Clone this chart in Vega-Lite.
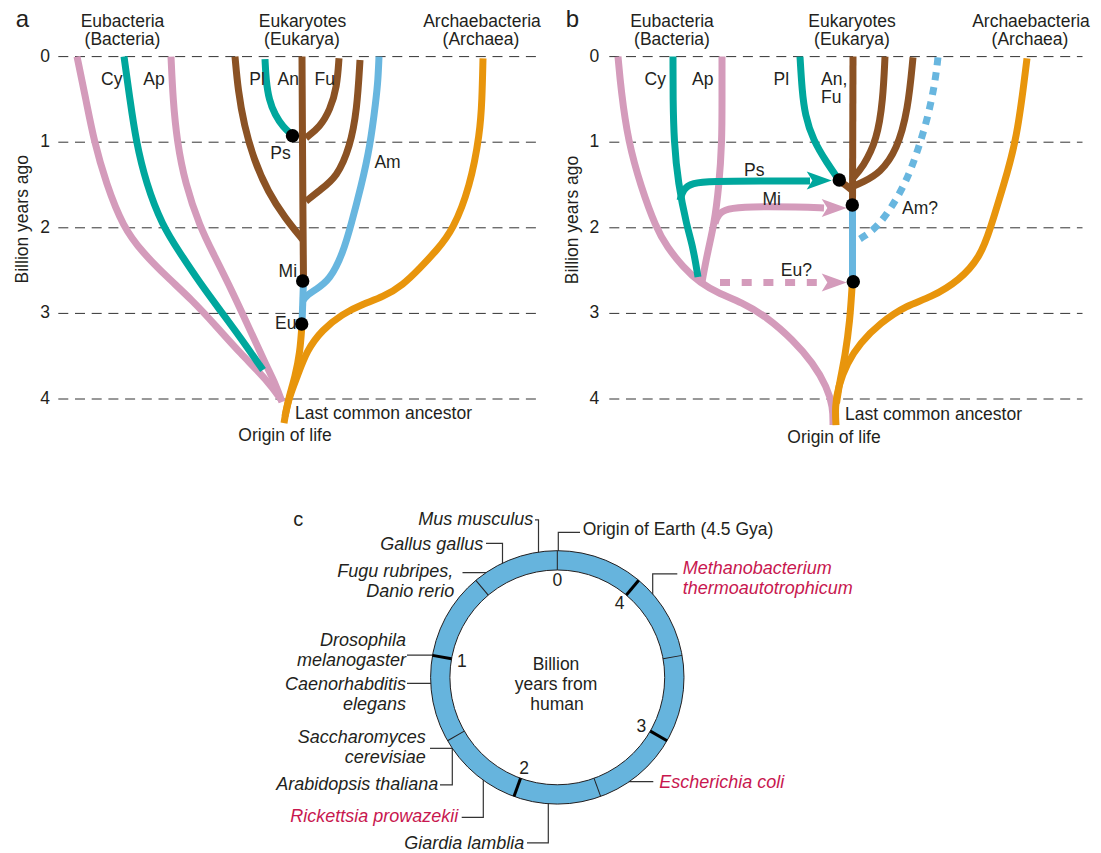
{
"$schema": "https://vega.github.io/schema/vega-lite/v6.json",
"width": 1101, "height": 853, "padding": 0,
"autosize": {"type": "fit", "contains": "padding"},
"background": "#ffffff",
"config": {"view": {"stroke": null}, "text": {"font": "Liberation Sans"}},
"datasets": {
"grid": [
{"x":58.3,"x2":536.7,"y":0},{"x":58.3,"x2":536.7,"y":1},{"x":58.3,"x2":536.7,"y":2},{"x":58.3,"x2":536.7,"y":3},{"x":58.3,"x2":536.7,"y":4},
{"x":609.3,"x2":1082.5,"y":0},{"x":609.3,"x2":1082.5,"y":1},{"x":609.3,"x2":1082.5,"y":2},{"x":609.3,"x2":1082.5,"y":3},{"x":609.3,"x2":1082.5,"y":4}
],
"br": [
{"id":"a1","c":"pink","s":"solid","o":1,"x":77,"y":0},
{"id":"a1","c":"pink","s":"solid","o":2,"x":86,"y":0.507},
{"id":"a1","c":"pink","s":"solid","o":3,"x":94,"y":0.986},
{"id":"a1","c":"pink","s":"solid","o":4,"x":106,"y":1.477},
{"id":"a1","c":"pink","s":"solid","o":5,"x":123,"y":1.991},
{"id":"a1","c":"pink","s":"solid","o":6,"x":143,"y":2.294},
{"id":"a1","c":"pink","s":"solid","o":7,"x":167,"y":2.575},
{"id":"a1","c":"pink","s":"solid","o":8,"x":192,"y":2.843},
{"id":"a1","c":"pink","s":"solid","o":9,"x":217,"y":3.159},
{"id":"a1","c":"pink","s":"solid","o":10,"x":240,"y":3.463},
{"id":"a1","c":"pink","s":"solid","o":11,"x":267,"y":3.778},
{"id":"a1","c":"pink","s":"solid","o":12,"x":282,"y":4.023},
{"id":"a3","c":"pink","s":"solid","o":1,"x":171,"y":0},
{"id":"a3","c":"pink","s":"solid","o":2,"x":173,"y":0.507},
{"id":"a3","c":"pink","s":"solid","o":3,"x":177,"y":0.986},
{"id":"a3","c":"pink","s":"solid","o":4,"x":185,"y":1.477},
{"id":"a3","c":"pink","s":"solid","o":5,"x":200,"y":1.991},
{"id":"a3","c":"pink","s":"solid","o":6,"x":213,"y":2.294},
{"id":"a3","c":"pink","s":"solid","o":7,"x":233,"y":2.761},
{"id":"a3","c":"pink","s":"solid","o":8,"x":250,"y":3.194},
{"id":"a3","c":"pink","s":"solid","o":9,"x":266,"y":3.603},
{"id":"a3","c":"pink","s":"solid","o":10,"x":276,"y":3.837},
{"id":"a3","c":"pink","s":"solid","o":11,"x":282,"y":4.035},
{"id":"a2","c":"teal","s":"solid","o":1,"x":124,"y":0},
{"id":"a2","c":"teal","s":"solid","o":2,"x":130,"y":0.507},
{"id":"a2","c":"teal","s":"solid","o":3,"x":136,"y":0.986},
{"id":"a2","c":"teal","s":"solid","o":4,"x":146,"y":1.477},
{"id":"a2","c":"teal","s":"solid","o":5,"x":162,"y":1.968},
{"id":"a2","c":"teal","s":"solid","o":6,"x":180,"y":2.294},
{"id":"a2","c":"teal","s":"solid","o":7,"x":200,"y":2.645},
{"id":"a2","c":"teal","s":"solid","o":8,"x":220,"y":2.961},
{"id":"a2","c":"teal","s":"solid","o":9,"x":240,"y":3.276},
{"id":"a2","c":"teal","s":"solid","o":10,"x":263,"y":3.662},
{"id":"a5","c":"teal","s":"solid","o":1,"x":265,"y":0.03},
{"id":"a5","c":"teal","s":"solid","o":2,"x":266,"y":0.273},
{"id":"a5","c":"teal","s":"solid","o":3,"x":269,"y":0.507},
{"id":"a5","c":"teal","s":"solid","o":4,"x":275,"y":0.682},
{"id":"a5","c":"teal","s":"solid","o":5,"x":283,"y":0.822},
{"id":"a5","c":"teal","s":"solid","o":6,"x":292,"y":0.916},
{"id":"a4","c":"brown","s":"solid","o":1,"x":235,"y":0},
{"id":"a4","c":"brown","s":"solid","o":2,"x":238,"y":0.39},
{"id":"a4","c":"brown","s":"solid","o":3,"x":244,"y":0.799},
{"id":"a4","c":"brown","s":"solid","o":4,"x":254,"y":1.208},
{"id":"a4","c":"brown","s":"solid","o":5,"x":268,"y":1.582},
{"id":"a4","c":"brown","s":"solid","o":6,"x":285,"y":1.886},
{"id":"a4","c":"brown","s":"solid","o":7,"x":303,"y":2.142},
{"id":"a6","c":"brown","s":"solid","o":1,"x":302,"y":0},
{"id":"a6","c":"brown","s":"solid","o":2,"x":303,"y":2.026},
{"id":"a6","c":"brown","s":"solid","o":3,"x":303.5,"y":2.622},
{"id":"a7","c":"brown","s":"solid","o":1,"x":306,"y":0.95},
{"id":"a7","c":"brown","s":"solid","o":2,"x":320,"y":0.822},
{"id":"a7","c":"brown","s":"solid","o":3,"x":330,"y":0.624},
{"id":"a7","c":"brown","s":"solid","o":4,"x":337,"y":0.355},
{"id":"a7","c":"brown","s":"solid","o":5,"x":339,"y":0.02},
{"id":"a8","c":"brown","s":"solid","o":1,"x":360,"y":0.04},
{"id":"a8","c":"brown","s":"solid","o":2,"x":357,"y":0.624},
{"id":"a8","c":"brown","s":"solid","o":3,"x":350,"y":1.056},
{"id":"a8","c":"brown","s":"solid","o":4,"x":337,"y":1.407},
{"id":"a8","c":"brown","s":"solid","o":5,"x":320,"y":1.558},
{"id":"a8","c":"brown","s":"solid","o":6,"x":306,"y":1.69},
{"id":"a9","c":"blue","s":"solid","o":1,"x":379,"y":0},
{"id":"a9","c":"blue","s":"solid","o":2,"x":378,"y":0.273},
{"id":"a9","c":"blue","s":"solid","o":3,"x":376,"y":0.507},
{"id":"a9","c":"blue","s":"solid","o":4,"x":370,"y":1.056},
{"id":"a9","c":"blue","s":"solid","o":5,"x":361,"y":1.523},
{"id":"a9","c":"blue","s":"solid","o":6,"x":351,"y":1.968},
{"id":"a9","c":"blue","s":"solid","o":7,"x":343,"y":2.294},
{"id":"a9","c":"blue","s":"solid","o":8,"x":330,"y":2.61},
{"id":"a9","c":"blue","s":"solid","o":9,"x":315,"y":2.727},
{"id":"a9","c":"blue","s":"solid","o":10,"x":306,"y":2.797},
{"id":"a9","c":"blue","s":"solid","o":11,"x":303,"y":2.85},
{"id":"a10","c":"blue","s":"solid","o":1,"x":303.5,"y":2.622},
{"id":"a10","c":"blue","s":"solid","o":2,"x":302,"y":3.123},
{"id":"a11","c":"orange","s":"solid","o":1,"x":483,"y":0.02},
{"id":"a11","c":"orange","s":"solid","o":2,"x":482,"y":0.507},
{"id":"a11","c":"orange","s":"solid","o":3,"x":480,"y":0.892},
{"id":"a11","c":"orange","s":"solid","o":4,"x":470,"y":1.523},
{"id":"a11","c":"orange","s":"solid","o":5,"x":453,"y":2.026},
{"id":"a11","c":"orange","s":"solid","o":6,"x":437,"y":2.259},
{"id":"a11","c":"orange","s":"solid","o":7,"x":420,"y":2.47},
{"id":"a11","c":"orange","s":"solid","o":8,"x":403,"y":2.668},
{"id":"a11","c":"orange","s":"solid","o":9,"x":383,"y":2.809},
{"id":"a11","c":"orange","s":"solid","o":10,"x":363,"y":2.891},
{"id":"a11","c":"orange","s":"solid","o":11,"x":342,"y":3.008},
{"id":"a11","c":"orange","s":"solid","o":12,"x":322,"y":3.195},
{"id":"a11","c":"orange","s":"solid","o":13,"x":307,"y":3.428},
{"id":"a11","c":"orange","s":"solid","o":14,"x":297,"y":3.744},
{"id":"a11","c":"orange","s":"solid","o":15,"x":288,"y":4.012},
{"id":"a11","c":"orange","s":"solid","o":16,"x":284,"y":4.281},
{"id":"a12","c":"orange","s":"solid","o":1,"x":302,"y":3.123},
{"id":"a12","c":"orange","s":"solid","o":2,"x":300,"y":3.461},
{"id":"a12","c":"orange","s":"solid","o":3,"x":295,"y":3.744},
{"id":"a12","c":"orange","s":"solid","o":4,"x":289,"y":3.977},
{"id":"a12","c":"orange","s":"solid","o":5,"x":285,"y":4.2},
{"id":"b1","c":"pink","s":"solid","o":1,"x":618,"y":0},
{"id":"b1","c":"pink","s":"solid","o":2,"x":621,"y":0.39},
{"id":"b1","c":"pink","s":"solid","o":3,"x":628,"y":0.986},
{"id":"b1","c":"pink","s":"solid","o":4,"x":641,"y":1.523},
{"id":"b1","c":"pink","s":"solid","o":5,"x":656,"y":1.999},
{"id":"b1","c":"pink","s":"solid","o":6,"x":667,"y":2.224},
{"id":"b1","c":"pink","s":"solid","o":7,"x":683,"y":2.458},
{"id":"b1","c":"pink","s":"solid","o":8,"x":700,"y":2.645},
{"id":"b1","c":"pink","s":"solid","o":9,"x":720,"y":2.773},
{"id":"b1","c":"pink","s":"solid","o":10,"x":741,"y":2.867},
{"id":"b1","c":"pink","s":"solid","o":11,"x":767,"y":3.042},
{"id":"b1","c":"pink","s":"solid","o":12,"x":793,"y":3.311},
{"id":"b1","c":"pink","s":"solid","o":13,"x":813,"y":3.579},
{"id":"b1","c":"pink","s":"solid","o":14,"x":827,"y":3.86},
{"id":"b1","c":"pink","s":"solid","o":15,"x":833,"y":4.094},
{"id":"b1","c":"pink","s":"solid","o":16,"x":833,"y":4.304},
{"id":"b4","c":"pink","s":"solid","o":1,"x":722,"y":0},
{"id":"b4","c":"pink","s":"solid","o":2,"x":722,"y":0.507},
{"id":"b4","c":"pink","s":"solid","o":3,"x":722,"y":0.986},
{"id":"b4","c":"pink","s":"solid","o":4,"x":719,"y":1.523},
{"id":"b4","c":"pink","s":"solid","o":5,"x":714,"y":1.968},
{"id":"b4","c":"pink","s":"solid","o":6,"x":708,"y":2.259},
{"id":"b4","c":"pink","s":"solid","o":7,"x":702,"y":2.633},
{"id":"b5","c":"pink","s":"solid","o":1,"x":715,"y":1.95},
{"id":"b5","c":"pink","s":"solid","o":2,"x":718,"y":1.84},
{"id":"b5","c":"pink","s":"solid","o":3,"x":727,"y":1.775},
{"id":"b5","c":"pink","s":"solid","o":4,"x":748,"y":1.752},
{"id":"b5","c":"pink","s":"solid","o":5,"x":800,"y":1.757},
{"id":"b5","c":"pink","s":"solid","o":6,"x":824,"y":1.769},
{"id":"b6","c":"pink","s":"dash","o":1,"x":720,"y":2.638},
{"id":"b6","c":"pink","s":"dash","o":2,"x":818,"y":2.638},
{"id":"b2","c":"teal","s":"solid","o":1,"x":673,"y":0},
{"id":"b2","c":"teal","s":"solid","o":2,"x":673,"y":0.507},
{"id":"b2","c":"teal","s":"solid","o":3,"x":674,"y":0.986},
{"id":"b2","c":"teal","s":"solid","o":4,"x":678,"y":1.477},
{"id":"b2","c":"teal","s":"solid","o":5,"x":687,"y":1.991},
{"id":"b2","c":"teal","s":"solid","o":6,"x":693,"y":2.224},
{"id":"b2","c":"teal","s":"solid","o":7,"x":698,"y":2.575},
{"id":"b3","c":"teal","s":"solid","o":1,"x":680,"y":1.68},
{"id":"b3","c":"teal","s":"solid","o":2,"x":683,"y":1.55},
{"id":"b3","c":"teal","s":"solid","o":3,"x":692,"y":1.475},
{"id":"b3","c":"teal","s":"solid","o":4,"x":712,"y":1.455},
{"id":"b3","c":"teal","s":"solid","o":5,"x":760,"y":1.453},
{"id":"b3","c":"teal","s":"solid","o":6,"x":810,"y":1.453},
{"id":"b7","c":"teal","s":"solid","o":1,"x":800,"y":0},
{"id":"b7","c":"teal","s":"solid","o":2,"x":802,"y":0.39},
{"id":"b7","c":"teal","s":"solid","o":3,"x":805,"y":0.682},
{"id":"b7","c":"teal","s":"solid","o":4,"x":813,"y":0.974},
{"id":"b7","c":"teal","s":"solid","o":5,"x":827,"y":1.243},
{"id":"b7","c":"teal","s":"solid","o":6,"x":839,"y":1.442},
{"id":"b8","c":"brown","s":"solid","o":1,"x":839,"y":1.453},
{"id":"b8","c":"brown","s":"solid","o":2,"x":846,"y":1.5},
{"id":"b8","c":"brown","s":"solid","o":3,"x":853,"y":1.57},
{"id":"b9","c":"brown","s":"solid","o":1,"x":853,"y":0},
{"id":"b9","c":"brown","s":"solid","o":2,"x":852.5,"y":1.733},
{"id":"b10","c":"brown","s":"solid","o":1,"x":885,"y":0},
{"id":"b10","c":"brown","s":"solid","o":2,"x":883,"y":0.507},
{"id":"b10","c":"brown","s":"solid","o":3,"x":877,"y":0.974},
{"id":"b10","c":"brown","s":"solid","o":4,"x":863,"y":1.29},
{"id":"b10","c":"brown","s":"solid","o":5,"x":852,"y":1.43},
{"id":"b11","c":"brown","s":"solid","o":1,"x":913,"y":0.01},
{"id":"b11","c":"brown","s":"solid","o":2,"x":908,"y":0.624},
{"id":"b11","c":"brown","s":"solid","o":3,"x":897,"y":1.091},
{"id":"b11","c":"brown","s":"solid","o":4,"x":880,"y":1.36},
{"id":"b11","c":"brown","s":"solid","o":5,"x":863,"y":1.465},
{"id":"b11","c":"brown","s":"solid","o":6,"x":852,"y":1.52},
{"id":"b12","c":"blue","s":"solid","o":1,"x":852.5,"y":1.733},
{"id":"b12","c":"blue","s":"solid","o":2,"x":852.5,"y":2.633},
{"id":"b13","c":"blue","s":"dot","o":1,"x":938,"y":0.01},
{"id":"b13","c":"blue","s":"dot","o":2,"x":935,"y":0.308},
{"id":"b13","c":"blue","s":"dot","o":3,"x":928,"y":0.705},
{"id":"b13","c":"blue","s":"dot","o":4,"x":918,"y":1.091},
{"id":"b13","c":"blue","s":"dot","o":5,"x":907,"y":1.442},
{"id":"b13","c":"blue","s":"dot","o":6,"x":892,"y":1.757},
{"id":"b13","c":"blue","s":"dot","o":7,"x":877,"y":1.991},
{"id":"b13","c":"blue","s":"dot","o":8,"x":865,"y":2.096},
{"id":"b13","c":"blue","s":"dot","o":9,"x":853,"y":2.178},
{"id":"b14","c":"orange","s":"solid","o":1,"x":1027,"y":0.02},
{"id":"b14","c":"orange","s":"solid","o":2,"x":1017,"y":0.974},
{"id":"b14","c":"orange","s":"solid","o":3,"x":1003,"y":1.523},
{"id":"b14","c":"orange","s":"solid","o":4,"x":990,"y":2.026},
{"id":"b14","c":"orange","s":"solid","o":5,"x":980,"y":2.341},
{"id":"b14","c":"orange","s":"solid","o":6,"x":960,"y":2.61},
{"id":"b14","c":"orange","s":"solid","o":7,"x":930,"y":2.82},
{"id":"b14","c":"orange","s":"solid","o":8,"x":907,"y":2.902},
{"id":"b14","c":"orange","s":"solid","o":9,"x":880,"y":3.113},
{"id":"b14","c":"orange","s":"solid","o":10,"x":860,"y":3.347},
{"id":"b14","c":"orange","s":"solid","o":11,"x":847,"y":3.581},
{"id":"b14","c":"orange","s":"solid","o":12,"x":838,"y":3.861},
{"id":"b14","c":"orange","s":"solid","o":13,"x":835,"y":4.095},
{"id":"b14","c":"orange","s":"solid","o":14,"x":836,"y":4.305},
{"id":"b15","c":"orange","s":"solid","o":1,"x":852.5,"y":2.633},
{"id":"b15","c":"orange","s":"solid","o":2,"x":852,"y":2.692},
{"id":"b15","c":"orange","s":"solid","o":3,"x":850,"y":3.077},
{"id":"b15","c":"orange","s":"solid","o":4,"x":845,"y":3.509},
{"id":"b15","c":"orange","s":"solid","o":5,"x":840,"y":3.778},
{"id":"b15","c":"orange","s":"solid","o":6,"x":836.5,"y":4.05}
],
"arrows": [
{"c":"teal","x":819.2,"y":1.447},
{"c":"pink","x":834.2,"y":1.769},
{"c":"pink","x":834.2,"y":2.638}
],
"dots": [
{"x":292.5,"y":0.924},{"x":302.7,"y":2.622},{"x":301.7,"y":3.123},
{"x":839.3,"y":1.442},{"x":852.3,"y":1.733},{"x":853.3,"y":2.63}
],
"ring": [{"x":557.3,"y":7.252}],
"ticks": [
{"x":557.3,"y":7.252,"g":0,"k":"minor"},
{"x":557.3,"y":7.252,"g":0.5,"k":"minor"},
{"x":557.3,"y":7.252,"g":1,"k":"major"},
{"x":557.3,"y":7.252,"g":1.5,"k":"minor"},
{"x":557.3,"y":7.252,"g":2,"k":"major"},
{"x":557.3,"y":7.252,"g":2.5,"k":"minor"},
{"x":557.3,"y":7.252,"g":3,"k":"major"},
{"x":557.3,"y":7.252,"g":3.5,"k":"minor"},
{"x":557.3,"y":7.252,"g":4,"k":"major"}
],
"leaders": [
{"id":"L1","o":1,"x":535,"y":5.413},{"id":"L1","o":2,"x":538.5,"y":5.413},{"id":"L1","o":3,"x":538.5,"y":5.881},
{"id":"L2","o":1,"x":486,"y":5.686},{"id":"L2","o":2,"x":502.5,"y":5.686},{"id":"L2","o":3,"x":502.5,"y":6.021},
{"id":"L3","o":1,"x":462.5,"y":6.029},{"id":"L3","o":2,"x":500,"y":6.029},
{"id":"L4","o":1,"x":407,"y":6.991},{"id":"L4","o":2,"x":441,"y":6.991},
{"id":"L5","o":1,"x":407,"y":7.321},{"id":"L5","o":2,"x":440,"y":7.321},
{"id":"L6","o":1,"x":430,"y":8.081},{"id":"L6","o":2,"x":460,"y":8.081},
{"id":"L7","o":1,"x":440,"y":8.509},{"id":"L7","o":2,"x":452.3,"y":8.509},{"id":"L7","o":3,"x":452.3,"y":8.081},
{"id":"L8","o":1,"x":461.7,"y":8.887},{"id":"L8","o":2,"x":483.3,"y":8.887},{"id":"L8","o":3,"x":483.3,"y":8.357},
{"id":"L9","o":1,"x":527,"y":9.186},{"id":"L9","o":2,"x":548.3,"y":9.186},{"id":"L9","o":3,"x":548.3,"y":8.626},
{"id":"L10","o":1,"x":580,"y":5.557},{"id":"L10","o":2,"x":558.3,"y":5.557},{"id":"L10","o":3,"x":558.3,"y":5.881},
{"id":"L11","o":1,"x":677.3,"y":6.044},{"id":"L11","o":2,"x":652.7,"y":6.044},{"id":"L11","o":3,"x":652.7,"y":6.395},
{"id":"L12","o":1,"x":653.3,"y":8.471},{"id":"L12","o":2,"x":615,"y":8.471}
],
"labels": [
{"s":"p","t":"a","x":22.5,"y":-0.424},
{"s":"p","t":"b","x":572.5,"y":-0.424},
{"s":"pc","t":"c","x":298.3,"y":5.413},
{"s":"t","t":"Billion years ago","x":22.5,"y":1.9},
{"s":"t","t":"Billion years ago","x":572.5,"y":1.909},
{"s":"c","t":"Eubacteria","x":122.5,"y":-0.41},
{"s":"c","t":"(Bacteria)","x":122.5,"y":-0.19},
{"s":"c","t":"Eukaryotes","x":302.5,"y":-0.41},
{"s":"c","t":"(Eukarya)","x":302,"y":-0.19},
{"s":"c","t":"Archaebacteria","x":482,"y":-0.41},
{"s":"c","t":"(Archaea)","x":481,"y":-0.19},
{"s":"c","t":"Eubacteria","x":672,"y":-0.41},
{"s":"c","t":"(Bacteria)","x":672,"y":-0.19},
{"s":"c","t":"Eukaryotes","x":852,"y":-0.41},
{"s":"c","t":"(Eukarya)","x":852,"y":-0.19},
{"s":"c","t":"Archaebacteria","x":1031,"y":-0.41},
{"s":"c","t":"(Archaea)","x":1030,"y":-0.19},
{"s":"c","t":"0","x":45,"y":0},{"s":"c","t":"1","x":45,"y":1},{"s":"c","t":"2","x":45,"y":2},{"s":"c","t":"3","x":45,"y":3},{"s":"c","t":"4","x":45,"y":4},
{"s":"c","t":"0","x":594.3,"y":0},{"s":"c","t":"1","x":594.3,"y":1},{"s":"c","t":"2","x":594.3,"y":2},{"s":"c","t":"3","x":594.3,"y":3},{"s":"c","t":"4","x":594.3,"y":4},
{"s":"c","t":"Cy","x":111.7,"y":0.27},
{"s":"c","t":"Ap","x":154,"y":0.27},
{"s":"c","t":"Pl","x":257,"y":0.27},
{"s":"c","t":"An","x":288.3,"y":0.27},
{"s":"c","t":"Fu","x":324.7,"y":0.27},
{"s":"c","t":"Ps","x":280.5,"y":1.142},
{"s":"c","t":"Am","x":387.5,"y":1.243},
{"s":"c","t":"Mi","x":287.8,"y":2.514},
{"s":"c","t":"Eu","x":285.8,"y":3.121},
{"s":"c","t":"Origin of life","x":285,"y":4.436},
{"s":"c","t":"Cy","x":655.2,"y":0.27},
{"s":"c","t":"Ap","x":702.8,"y":0.27},
{"s":"c","t":"Pl","x":781.3,"y":0.27},
{"s":"c","t":"Ps","x":754.2,"y":1.336},
{"s":"c","t":"Mi","x":771.7,"y":1.673},
{"s":"c","t":"Eu?","x":796.3,"y":2.505},
{"s":"c","t":"Am?","x":920,"y":1.784},
{"s":"c","t":"Origin of life","x":834,"y":4.452},
{"s":"c","t":"0","x":557.3,"y":6.131},
{"s":"c","t":"1","x":461.8,"y":7.068},
{"s":"c","t":"2","x":524.1,"y":8.328},
{"s":"c","t":"3","x":641.3,"y":7.83},
{"s":"c","t":"4","x":619.7,"y":6.396},
{"s":"c","t":"Billion","x":556,"y":7.104},
{"s":"c","t":"years from","x":556,"y":7.338},
{"s":"c","t":"human","x":557,"y":7.572},
{"s":"l","t":"Last common ancestor","x":295,"y":4.173},
{"s":"l","t":"Last common ancestor","x":845,"y":4.183},
{"s":"l","t":"An,","x":821,"y":0.27},
{"s":"l","t":"Fu","x":821,"y":0.489},
{"s":"l","t":"Origin of Earth (4.5 Gya)","x":582.7,"y":5.529},
{"s":"ir","k":"ink","t":"Mus musculus","x":533.3,"y":5.417},
{"s":"ir","k":"ink","t":"Gallus gallus","x":483.3,"y":5.709},
{"s":"ir","k":"ink","t":"Fugu rubripes,","x":453.3,"y":6.026},
{"s":"ir","k":"ink","t":"Danio rerio","x":454.3,"y":6.258},
{"s":"ir","k":"ink","t":"Drosophila","x":406,"y":6.822},
{"s":"ir","k":"ink","t":"melanogaster","x":406,"y":7.056},
{"s":"ir","k":"ink","t":"Caenorhabditis","x":406,"y":7.34},
{"s":"ir","k":"ink","t":"elegans","x":406,"y":7.574},
{"s":"ir","k":"ink","t":"Saccharomyces","x":425.7,"y":7.964},
{"s":"ir","k":"ink","t":"cerevisiae","x":425.7,"y":8.197},
{"s":"ir","k":"ink","t":"Arabidopsis thaliana","x":438.3,"y":8.508},
{"s":"ir","k":"red","t":"Rickettsia prowazekii","x":458.3,"y":8.888},
{"s":"ir","k":"ink","t":"Giardia lamblia","x":524.3,"y":9.198},
{"s":"il","k":"red","t":"Methanobacterium","x":682.7,"y":5.99},
{"s":"il","k":"red","t":"thermoautotrophicum","x":682.7,"y":6.224},
{"s":"il","k":"red","t":"Escherichia coli","x":659.3,"y":8.491}
]
},
"encoding": {
"x": {"field": "x", "type": "quantitative", "scale": {"domain": [0, 1101], "nice": false, "zero": false}, "axis": null},
"y": {"field": "y", "type": "quantitative", "scale": {"domain": [-0.6612, 9.3037], "reverse": true, "nice": false, "zero": false}, "axis": null}
},
"layer": [
{"data": {"name": "grid"}, "mark": {"type": "rule", "stroke": "#333333", "strokeWidth": 1, "strokeDash": [10, 6.7]}, "encoding": {"x2": {"field": "x2"}}},
{"data": {"name": "leaders"}, "mark": {"type": "line", "stroke": "#333333", "strokeWidth": 1.2, "interpolate": "linear"}, "encoding": {"detail": {"field": "id"}, "order": {"field": "o", "type": "quantitative"}}},
{"data": {"name": "br"}, "transform": [{"filter": "datum.s === 'solid' && datum.c === 'pink'"}], "mark": {"type": "line", "strokeWidth": 7, "interpolate": "basis", "strokeCap": "butt", "strokeJoin": "round"}, "encoding": {"color": {"field": "c", "type": "nominal", "scale": {"domain": ["pink","teal","brown","blue","orange","ink","red"], "range": ["#d49bbb","#00a79d","#8b5224","#68b6df","#e8950c","#231f20","#c8174f"]}, "legend": null}, "detail": {"field": "id"}, "order": {"field": "o", "type": "quantitative"}}},
{"data": {"name": "br"}, "transform": [{"filter": "datum.s === 'dash'"}], "mark": {"type": "line", "strokeWidth": 7, "interpolate": "linear", "strokeCap": "butt", "strokeDash": [10, 11.7]}, "encoding": {"color": {"field": "c", "type": "nominal", "scale": {"domain": ["pink","teal","brown","blue","orange","ink","red"], "range": ["#d49bbb","#00a79d","#8b5224","#68b6df","#e8950c","#231f20","#c8174f"]}, "legend": null}, "detail": {"field": "id"}, "order": {"field": "o", "type": "quantitative"}}},
{"data": {"name": "br"}, "transform": [{"filter": "datum.s === 'solid' && datum.c === 'teal'"}], "mark": {"type": "line", "strokeWidth": 7, "interpolate": "basis", "strokeCap": "butt", "strokeJoin": "round"}, "encoding": {"color": {"field": "c", "type": "nominal", "scale": {"domain": ["pink","teal","brown","blue","orange","ink","red"], "range": ["#d49bbb","#00a79d","#8b5224","#68b6df","#e8950c","#231f20","#c8174f"]}, "legend": null}, "detail": {"field": "id"}, "order": {"field": "o", "type": "quantitative"}}},
{"data": {"name": "br"}, "transform": [{"filter": "datum.s === 'solid' && datum.c === 'brown'"}], "mark": {"type": "line", "strokeWidth": 7, "interpolate": "basis", "strokeCap": "butt", "strokeJoin": "round"}, "encoding": {"color": {"field": "c", "type": "nominal", "scale": {"domain": ["pink","teal","brown","blue","orange","ink","red"], "range": ["#d49bbb","#00a79d","#8b5224","#68b6df","#e8950c","#231f20","#c8174f"]}, "legend": null}, "detail": {"field": "id"}, "order": {"field": "o", "type": "quantitative"}}},
{"data": {"name": "br"}, "transform": [{"filter": "datum.s === 'solid' && datum.c === 'blue'"}], "mark": {"type": "line", "strokeWidth": 7, "interpolate": "basis", "strokeCap": "butt", "strokeJoin": "round"}, "encoding": {"color": {"field": "c", "type": "nominal", "scale": {"domain": ["pink","teal","brown","blue","orange","ink","red"], "range": ["#d49bbb","#00a79d","#8b5224","#68b6df","#e8950c","#231f20","#c8174f"]}, "legend": null}, "detail": {"field": "id"}, "order": {"field": "o", "type": "quantitative"}}},
{"data": {"name": "br"}, "transform": [{"filter": "datum.s === 'dot'"}], "mark": {"type": "line", "strokeWidth": 7, "interpolate": "basis", "strokeCap": "butt", "strokeDash": [8, 7]}, "encoding": {"color": {"field": "c", "type": "nominal", "scale": {"domain": ["pink","teal","brown","blue","orange","ink","red"], "range": ["#d49bbb","#00a79d","#8b5224","#68b6df","#e8950c","#231f20","#c8174f"]}, "legend": null}, "detail": {"field": "id"}, "order": {"field": "o", "type": "quantitative"}}},
{"data": {"name": "br"}, "transform": [{"filter": "datum.s === 'solid' && datum.c === 'orange'"}], "mark": {"type": "line", "strokeWidth": 7, "interpolate": "basis", "strokeCap": "butt", "strokeJoin": "round"}, "encoding": {"color": {"field": "c", "type": "nominal", "scale": {"domain": ["pink","teal","brown","blue","orange","ink","red"], "range": ["#d49bbb","#00a79d","#8b5224","#68b6df","#e8950c","#231f20","#c8174f"]}, "legend": null}, "detail": {"field": "id"}, "order": {"field": "o", "type": "quantitative"}}},
{"data": {"name": "arrows"}, "mark": {"type": "point", "shape": "M1,0L-1,-0.72L-0.55,0L-1,0.72Z", "size": 625, "filled": true, "opacity": 1, "strokeWidth": 0}, "encoding": {"color": {"field": "c", "type": "nominal", "scale": {"domain": ["pink","teal","brown","blue","orange","ink","red"], "range": ["#d49bbb","#00a79d","#8b5224","#68b6df","#e8950c","#231f20","#c8174f"]}, "legend": null}}},
{"data": {"name": "dots"}, "mark": {"type": "circle", "size": 180, "color": "#000000", "opacity": 1}},
{"data": {"name": "ring"}, "mark": {"type": "circle", "size": 64212, "fill": "#66b4dd", "stroke": "#231f20", "strokeWidth": 1, "opacity": 1, "fillOpacity": 1}},
{"data": {"name": "ring"}, "mark": {"type": "circle", "size": 46139, "fill": "#ffffff", "stroke": "#231f20", "strokeWidth": 1, "opacity": 1, "fillOpacity": 1}},
{"data": {"name": "ticks"}, "transform": [{"filter": "datum.k === 'minor'"}], "mark": {"type": "point", "shape": "M0,-1L0,-0.848", "size": 64212, "filled": false, "opacity": 1, "stroke": "#231f20", "strokeWidth": 1}, "encoding": {"angle": {"field": "g", "type": "quantitative", "scale": {"domain": [0, 4.5], "range": [360, 0]}}}},
{"data": {"name": "ticks"}, "transform": [{"filter": "datum.k === 'major'"}], "mark": {"type": "point", "shape": "M0,-1L0,-0.848", "size": 64212, "filled": false, "opacity": 1, "stroke": "#000000", "strokeWidth": 3}, "encoding": {"angle": {"field": "g", "type": "quantitative", "scale": {"domain": [0, 4.5], "range": [360, 0]}}}},
{"data": {"name": "labels"}, "transform": [{"filter": "datum.s === 'c'"}], "mark": {"type": "text", "fontSize": 17.5, "align": "center", "baseline": "middle", "color": "#231f20"}, "encoding": {"text": {"field": "t"}}},
{"data": {"name": "labels"}, "transform": [{"filter": "datum.s === 'l'"}], "mark": {"type": "text", "fontSize": 17.5, "align": "left", "baseline": "middle", "color": "#231f20"}, "encoding": {"text": {"field": "t"}}},
{"data": {"name": "labels"}, "transform": [{"filter": "datum.s === 'p'"}], "mark": {"type": "text", "fontSize": 24, "align": "center", "baseline": "middle", "color": "#231f20"}, "encoding": {"text": {"field": "t"}}},
{"data": {"name": "labels"}, "transform": [{"filter": "datum.s === 'pc'"}], "mark": {"type": "text", "fontSize": 20, "align": "center", "baseline": "middle", "color": "#231f20"}, "encoding": {"text": {"field": "t"}}},
{"data": {"name": "labels"}, "transform": [{"filter": "datum.s === 't'"}], "mark": {"type": "text", "fontSize": 17.5, "align": "center", "baseline": "middle", "angle": 270, "color": "#231f20"}, "encoding": {"text": {"field": "t"}}},
{"data": {"name": "labels"}, "transform": [{"filter": "datum.s === 'ir'"}], "mark": {"type": "text", "fontSize": 18, "fontStyle": "italic", "align": "right", "baseline": "middle"}, "encoding": {"text": {"field": "t"}, "color": {"field": "k", "type": "nominal", "scale": {"domain": ["pink","teal","brown","blue","orange","ink","red"], "range": ["#d49bbb","#00a79d","#8b5224","#68b6df","#e8950c","#231f20","#c8174f"]}, "legend": null}}},
{"data": {"name": "labels"}, "transform": [{"filter": "datum.s === 'il'"}], "mark": {"type": "text", "fontSize": 18, "fontStyle": "italic", "align": "left", "baseline": "middle"}, "encoding": {"text": {"field": "t"}, "color": {"field": "k", "type": "nominal", "scale": {"domain": ["pink","teal","brown","blue","orange","ink","red"], "range": ["#d49bbb","#00a79d","#8b5224","#68b6df","#e8950c","#231f20","#c8174f"]}, "legend": null}}}
]
}
